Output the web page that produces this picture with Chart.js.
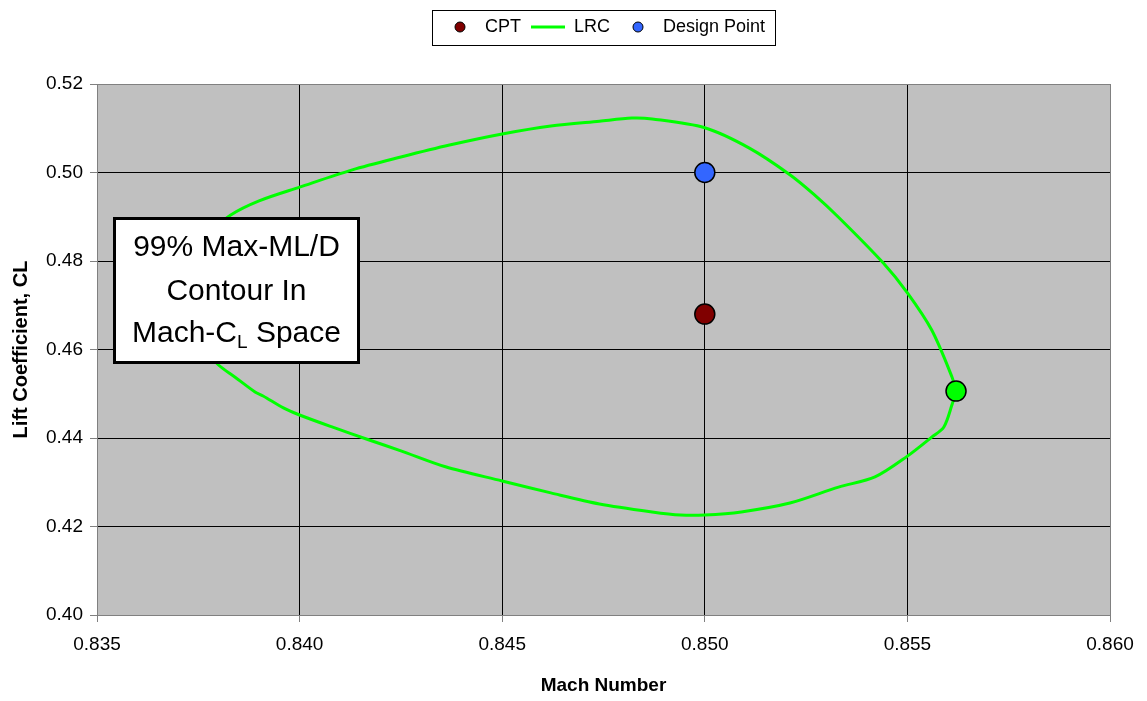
<!DOCTYPE html>
<html>
<head>
<meta charset="utf-8">
<title>99% Max-ML/D Contour</title>
<script src="https://cdn.jsdelivr.net/npm/chart.js@4.4.1/dist/chart.umd.min.js"></script>
<style>
    html, body { margin: 0; padding: 0; background: #fff; }
    #wrap { width: 1147px; height: 701px; position: relative; }
</style>
</head>
<body>
<div id="wrap"><canvas id="contourChart"></canvas></div>
<script>
// LRC contour, traced clockwise from the right-hand tip
const lrcMach = [
    0.8562, 0.8561, 0.8559, 0.8556, 0.8550, 0.8542, 0.8533, 0.8521, 0.8509, 0.8500,
    0.8494, 0.8487, 0.8474, 0.8462, 0.8450, 0.8436, 0.8425, 0.8417, 0.8408, 0.8400,
    0.8396, 0.8391, 0.8389, 0.8384, 0.8380, 0.8377, 0.8374, 0.8373, 0.8375, 0.8379,
    0.8383, 0.8390, 0.8400, 0.8413, 0.8425, 0.8437, 0.8450, 0.8462, 0.8474, 0.8482,
    0.8487, 0.8500, 0.8511, 0.8521, 0.8527, 0.8533, 0.8544, 0.8550, 0.8556, 0.8561,
    0.8562
];
const lrcCL = [
    0.4506, 0.4475, 0.4425, 0.4402, 0.4359, 0.4312, 0.4289, 0.4253, 0.4233, 0.4226,
    0.4226, 0.4233, 0.4251, 0.4276, 0.4303, 0.4335, 0.4371, 0.4396, 0.4425, 0.4452,
    0.4468, 0.4495, 0.4504, 0.4538, 0.4565, 0.4599, 0.4667, 0.4734, 0.4802, 0.4870,
    0.4904, 0.4936, 0.4967, 0.5006, 0.5035, 0.5062, 0.5087, 0.5105, 0.5116, 0.5123,
    0.5121, 0.5101, 0.5055, 0.4995, 0.4950, 0.4899, 0.4796, 0.4728, 0.4644, 0.4538,
    0.4506
];
const cptMach = [0.850];
const cptCL = [0.468];
const designMach = [0.850];
const designCL = [0.500];
const tipMach = [0.8562];
const tipCL = [0.4506];

const machMin = 0.835, machMax = 0.860, machStep = 0.005;
const clMin = 0.40, clMax = 0.52, clStep = 0.02;

const boxLines = ['99% Max-ML/D', 'Contour In'];

const FONT = '"Liberation Sans", Arial, sans-serif';

function toPoints(xs, ys) {
    return xs.map((x, i) => ({ x: x, y: ys[i] }));
}

// small canvases used as legend symbols
function legendDot(color) {
    const c = document.createElement('canvas');
    c.width = 34; c.height = 14;
    const g = c.getContext('2d');
    g.beginPath();
    g.arc(18, 7, 5, 0, Math.PI * 2);
    g.fillStyle = color;
    g.fill();
    g.lineWidth = 1;
    g.strokeStyle = '#000';
    g.stroke();
    return c;
}
function legendLine(color) {
    const c = document.createElement('canvas');
    c.width = 34; c.height = 14;
    const g = c.getContext('2d');
    g.fillStyle = color;
    g.fillRect(0, 5.5, 34, 3);
    return c;
}
const legendIcons = {
    1: legendDot('#800000'),
    2: legendLine('#00ff00'),
    3: legendDot('#3366ff')
};

// grey plot area, frame, legend border and the text box
const chartDecor = {
    id: 'chartDecor',
    afterInit(chart) {
        const legend = chart.legend;
        const fit = legend.fit;
        legend.fit = function() {
            fit.call(this);
            this.height = 76;
        };
    },
    beforeDraw(chart) {
        const { ctx, chartArea: a } = chart;
        ctx.save();
        ctx.fillStyle = '#c0c0c0';
        ctx.fillRect(a.left, a.top, a.right - a.left, a.bottom - a.top);
        ctx.restore();
    },
    afterDatasetsDraw(chart) {
        const ctx = chart.ctx;
        const a = chart.chartArea;
        // text box
        const bx = a.left + 16, by = a.top + 133, bw = 247, bh = 147;
        ctx.save();
        ctx.fillStyle = '#fff';
        ctx.fillRect(bx, by, bw, bh);
        ctx.lineWidth = 3;
        ctx.strokeStyle = '#000';
        ctx.strokeRect(bx + 1.5, by + 1.5, bw - 3, bh - 3);
        const cx = bx + bw / 2;
        ctx.fillStyle = '#000';
        ctx.textBaseline = 'middle';
        ctx.textAlign = 'center';
        ctx.font = '30px ' + FONT;
        ctx.fillText(boxLines[0], cx, by + 31);
        ctx.fillText(boxLines[1], cx, by + 75);
        // third line with subscript
        const p1 = 'Mach-C', sub = 'L', p2 = ' Space';
        ctx.font = '30px ' + FONT;
        const w1 = ctx.measureText(p1).width, w3 = ctx.measureText(p2).width;
        ctx.font = '19px ' + FONT;
        const w2 = ctx.measureText(sub).width;
        let x = cx - (w1 + w2 + w3) / 2;
        const y3 = by + 117;
        ctx.textAlign = 'left';
        ctx.font = '30px ' + FONT;
        ctx.fillText(p1, x, y3);
        x += w1;
        ctx.font = '19px ' + FONT;
        ctx.fillText(sub, x, y3 + 9);
        x += w2;
        ctx.font = '30px ' + FONT;
        ctx.fillText(p2, x, y3);
        ctx.restore();
    },
    afterDraw(chart) {
        const ctx = chart.ctx;
        const a = chart.chartArea;
        ctx.save();
        ctx.lineWidth = 1;
        ctx.strokeStyle = '#808080';
        ctx.strokeRect(a.left + 0.5, a.top + 0.5, a.right - a.left, a.bottom - a.top);
        // legend border
        const boxes = chart.legend.legendHitBoxes;
        if (boxes && boxes.length) {
            const left = Math.min(...boxes.map(b => b.left)) - 10;
            const right = Math.max(...boxes.map(b => b.left + b.width)) + 10;
            const top = boxes[0].top - 8;
            const bottom = boxes[0].top + boxes[0].height + 9;
            ctx.strokeStyle = '#000';
            ctx.strokeRect(Math.round(left) + 0.5, Math.round(top) + 0.5,
                Math.round(right - left), Math.round(bottom - top));
        }
        ctx.restore();
    }
};

const ctx = document.getElementById('contourChart');
new Chart(ctx, {
    type: 'scatter',
    data: {
        datasets: [
            {
                label: 'tip',
                data: toPoints(tipMach, tipCL),
                pointRadius: 10,
                pointBackgroundColor: '#00ff00',
                pointBorderColor: '#000',
                pointBorderWidth: 1.5
            },
            {
                label: 'CPT',
                data: toPoints(cptMach, cptCL),
                pointRadius: 10,
                pointBackgroundColor: '#800000',
                pointBorderColor: '#000',
                pointBorderWidth: 1.5
            },
            {
                label: 'LRC',
                data: toPoints(lrcMach, lrcCL),
                showLine: true,
                borderColor: '#00ff00',
                borderWidth: 3,
                tension: 0.3,
                pointRadius: 0
            },
            {
                label: 'Design Point',
                data: toPoints(designMach, designCL),
                pointRadius: 10,
                pointBackgroundColor: '#3366ff',
                pointBorderColor: '#000',
                pointBorderWidth: 1.5
            }
        ]
    },
    options: {
        responsive: true,
        maintainAspectRatio: false,
        animation: false,
        layout: {
            padding: { top: 8, right: 37, left: 0, bottom: 0 }
        },
        plugins: {
            tooltip: { enabled: false },
            legend: {
                position: 'top',
                fullSize: false,
                labels: {
                    usePointStyle: true,
                    pointStyleWidth: 34,
                    boxHeight: 14,
                    padding: 10,
                    color: '#000',
                    font: { family: FONT, size: 18 },
                    generateLabels(chart) {
                        const items = Chart.defaults.plugins.legend.labels.generateLabels(chart);
                        return items
                            .filter(item => item.datasetIndex !== 0)
                            .map(item => {
                                item.pointStyle = legendIcons[item.datasetIndex];
                                return item;
                            });
                    }
                }
            }
        },
        scales: {
            x: {
                type: 'linear',
                min: machMin,
                max: machMax,
                afterFit(scale) { scale.height = 86; },
                ticks: {
                    stepSize: machStep,
                    padding: 11,
                    color: '#000',
                    font: { family: FONT, size: 19 },
                    callback: v => v.toFixed(3)
                },
                grid: {
                    color: '#000',
                    lineWidth: 1,
                    tickLength: 7,
                    tickColor: '#808080'
                },
                border: { color: '#808080' },
                title: {
                    display: true,
                    text: 'Mach Number',
                    color: '#000',
                    font: { family: FONT, size: 19, weight: 'bold' },
                    padding: { top: 0, bottom: 4 }
                }
            },
            y: {
                type: 'linear',
                min: clMin,
                max: clMax,
                afterFit(scale) { scale.width = 97; },
                ticks: {
                    stepSize: clStep,
                    padding: 7,
                    color: '#000',
                    font: { family: FONT, size: 19 },
                    callback: v => v.toFixed(2)
                },
                grid: {
                    color: '#000',
                    lineWidth: 1,
                    tickLength: 7,
                    tickColor: '#808080'
                },
                border: { color: '#808080' },
                title: {
                    display: true,
                    text: 'Lift Coefficient, CL',
                    color: '#000',
                    font: { family: FONT, size: 20, weight: 'bold' },
                    padding: { top: 9, bottom: 0 }
                }
            }
        }
    },
    plugins: [chartDecor]
});
</script>
</body>
</html>
